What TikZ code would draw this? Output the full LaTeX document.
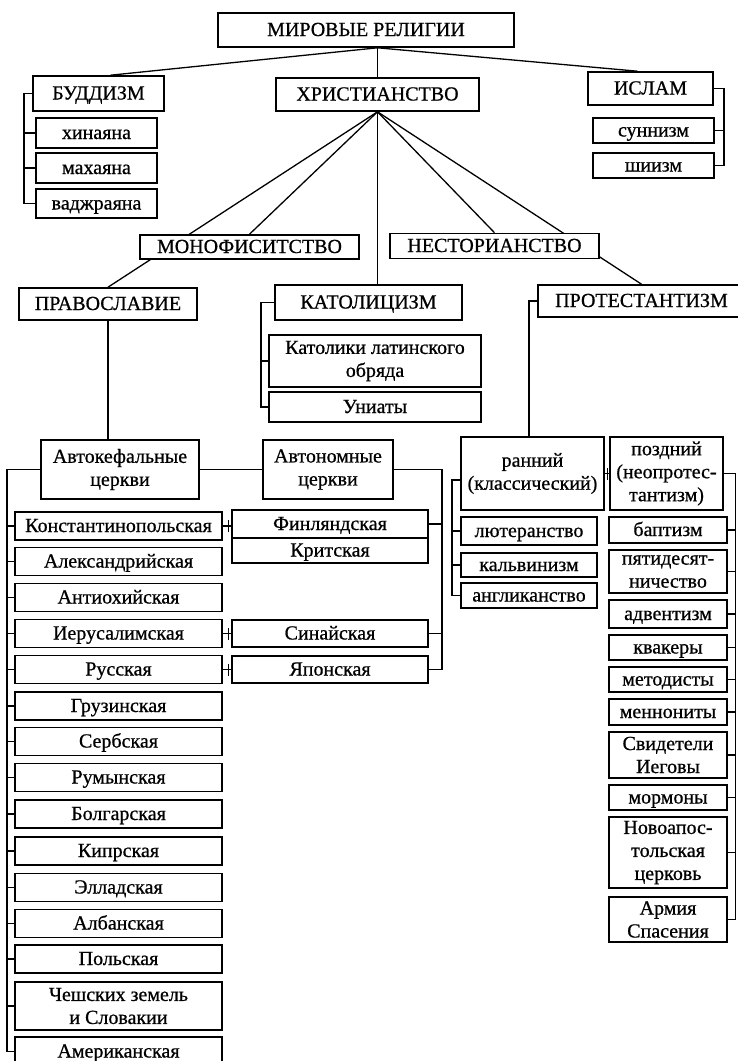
\documentclass[tikz,border=0pt]{standalone}
\usepackage{fontspec}
\setmainfont{Liberation Serif}[UprightFeatures={FakeBold=0.7}]
\usetikzlibrary{backgrounds}

\tikzset{
  box/.style={draw, fill=white, line width=1.6pt, inner sep=0pt, align=center, text height=14.5pt, text depth=2.5pt},
  tallbox/.style={draw, fill=white, line width=1.6pt, inner sep=0pt, align=center},
  lnk/.style={line width=1.3pt},
}

\begin{document}
\begin{tikzpicture}[x=1pt, y=-1pt, font=\fontsize{20}{23}\selectfont]
\useasboundingbox (0,0) rectangle (737,1061);

% Top level
\node[box, minimum width=296pt, minimum height=34pt] (world) at (366,30) {МИРОВЫЕ РЕЛИГИИ};
\node[box, minimum width=131pt, minimum height=35pt] (budd) at (98.5,93.5) {БУДДИЗМ};
\node[box, minimum width=203pt, minimum height=33pt] (christ) at (377.5,94.5) {ХРИСТИАНСТВО};
\node[box, minimum width=125pt, minimum height=33pt] (islam) at (650.5,88.5) {ИСЛАМ};

% Buddhism and Islam
\node[box, minimum width=121pt, minimum height=30pt] (hin) at (96.5,133) {хинаяна};
\node[box, minimum width=121pt, minimum height=30pt] (mah) at (96.5,168) {махаяна};
\node[box, minimum width=121pt, minimum height=29pt] (vadj) at (96.5,203.5) {ваджраяна};
\node[box, minimum width=121pt, minimum height=25pt] (sunn) at (653.5,130.5) {суннизм};
\node[box, minimum width=121pt, minimum height=25pt] (shi) at (653.5,165.5) {шиизм};

% Christianity
\node[box, minimum width=219pt, minimum height=24pt] (mono) at (249.5,247) {МОНОФИСИТСТВО};
\node[box, minimum width=209pt, minimum height=25pt] (nest) at (494.5,246) {НЕСТОРИАНСТВО};
\node[box, minimum width=178pt, minimum height=32pt] (prav) at (108,304) {ПРАВОСЛАВИЕ};
\node[box, minimum width=187pt, minimum height=35pt] (kat) at (368.5,302.5) {КАТОЛИЦИЗМ};
\node[box, minimum width=207pt, minimum height=32pt] (prot) at (641.5,301) {ПРОТЕСТАНТИЗМ};

% Catholicism
\node[tallbox, minimum width=212pt, minimum height=52pt] (katlat) at (375,361) {Католики латинского\\обряда};
\node[box, minimum width=212pt, minimum height=30pt] (uni) at (375,407) {Униаты};

% Orthodoxy
\node[tallbox, minimum width=158pt, minimum height=59pt] (avtokef) at (120,469.5) {Автокефальные\\церкви};
\node[tallbox, minimum width=130pt, minimum height=59pt] (avtonom) at (328,469.5) {Автономные\\церкви};
\node[box, minimum width=207pt, minimum height=28pt] (konst) at (118.5,526) {Константинопольская};
\node[box, minimum width=207pt, minimum height=28pt] (alex) at (118.5,561.5) {Александрийская};
\node[box, minimum width=207pt, minimum height=28pt] (antioch) at (118.5,597.5) {Антиохийская};
\node[box, minimum width=207pt, minimum height=28pt] (jerus) at (118.5,633.5) {Иерусалимская};
\node[box, minimum width=207pt, minimum height=28pt] (rus) at (118.5,669.5) {Русская};
\node[box, minimum width=207pt, minimum height=28pt] (georg) at (118.5,706) {Грузинская};
\node[box, minimum width=207pt, minimum height=28pt] (serb) at (118.5,741.5) {Сербская};
\node[box, minimum width=207pt, minimum height=28pt] (rom) at (118.5,777.5) {Румынская};
\node[box, minimum width=207pt, minimum height=28pt] (bulg) at (118.5,814) {Болгарская};
\node[box, minimum width=207pt, minimum height=28pt] (cyp) at (118.5,851) {Кипрская};
\node[box, minimum width=207pt, minimum height=28pt] (hell) at (118.5,887.5) {Элладская};
\node[box, minimum width=207pt, minimum height=28pt] (alb) at (118.5,923.5) {Албанская};
\node[box, minimum width=207pt, minimum height=28pt] (pol) at (118.5,959) {Польская};
\node[tallbox, minimum width=207pt, minimum height=48pt] (czech) at (118.5,1006) {Чешских земель\\и Словакии};
\node[box, minimum width=207pt, minimum height=29pt] (amer) at (118.5,1051.5) {Американская};
\node[box, minimum width=196pt, minimum height=28pt] (fin) at (330,524) {Финляндская};
\node[box, minimum width=196pt, minimum height=25pt] (krit) at (330,550.5) {Критская};
\node[box, minimum width=196pt, minimum height=27pt] (sin) at (330,633.5) {Синайская};
\node[box, minimum width=196pt, minimum height=27pt] (jap) at (330,669.5) {Японская};

% Protestantism
\node[tallbox, minimum width=143pt, minimum height=73pt] (rann) at (532.5,473.5) {ранний\\(классический)};
\node[tallbox, minimum width=113pt, minimum height=73pt] (pozd) at (666.5,473.5) {поздний\\(неопротес-\\тантизм)};
\node[box, minimum width=136pt, minimum height=28pt] (lut) at (529,531) {лютеранство};
\node[box, minimum width=136pt, minimum height=24pt] (kalv) at (529,565) {кальвинизм};
\node[box, minimum width=136pt, minimum height=25pt] (angl) at (529,595.5) {англиканство};
\node[box, minimum width=118pt, minimum height=26pt] (bapt) at (668,530) {баптизм};
\node[tallbox, minimum width=118pt, minimum height=43pt] (pent) at (668,571.5) {пятидесят-\\ничество};
\node[box, minimum width=118pt, minimum height=28pt] (adv) at (668,614) {адвентизм};
\node[box, minimum width=118pt, minimum height=25pt] (quak) at (668,647.5) {квакеры};
\node[box, minimum width=118pt, minimum height=25pt] (meth) at (668,679.5) {методисты};
\node[box, minimum width=118pt, minimum height=26pt] (menn) at (668,712) {меннониты};
\node[tallbox, minimum width=118pt, minimum height=46pt] (jw) at (668,755) {Свидетели\\Иеговы};
\node[box, minimum width=118pt, minimum height=25pt] (morm) at (668,797.5) {мормоны};
\node[tallbox, minimum width=118pt, minimum height=71pt] (novo) at (668,852.5) {Новоапос-\\тольская\\церковь};
\node[tallbox, minimum width=118pt, minimum height=45pt] (army) at (668,919.5) {Армия\\Спасения};

% Bracket positions
\coordinate (bb) at (24,0);
\coordinate (ib) at (724,0);
\coordinate (cb) at (261,0);
\coordinate (ab) at (7,0);
\coordinate (nb) at (442,0);
\coordinate (pb) at (529,0);
\coordinate (eb) at (452,0);
\coordinate (lb) at (735.5,0);

% Fan lines behind the boxes
\begin{scope}[on background layer]
\draw[lnk] (christ.north |- world.south) -- ([xshift=12pt]budd.north);
\draw[lnk] (christ.north |- world.south) -- ([xshift=-13pt]islam.north);
\draw[lnk] (christ.north |- world.south) -- (christ.north);
\draw[lnk] (christ.south) -- (prav.north);
\draw[lnk] (christ.south) -- (mono.north);
\draw[lnk] (christ.south) -- (christ.south |- kat.north);
\draw[lnk] (christ.south) -- (nest.north);
\draw[lnk] (christ.south) -- (prot.north);
\end{scope}

% Brackets
\draw[lnk] (budd.west) -| (bb |- vadj.west) -- (vadj.west);
\foreach \n in {hin,mah} \draw[lnk] (\n.west) -- (\n.west -| bb);
\draw[lnk] (islam.east) -| (ib |- shi.east) -- (shi.east);
\draw[lnk] (sunn.east) -- (sunn.east -| ib);
\draw[lnk] (kat.west) -| (cb |- uni.west) -- (uni.west);
\draw[lnk] (katlat.west) -- (katlat.west -| cb);

\draw[lnk] (prav.south) -- (prav.south |- avtokef.north);
\draw[lnk] (avtokef.east) -- (avtonom.west);
\draw[lnk] (avtokef.west) -| (ab |- amer.west) -- (amer.west);
\foreach \n in {konst,alex,antioch,jerus,rus,georg,serb,rom,bulg,cyp,hell,alb,pol,czech}
  \draw[lnk] (\n.west) -- (\n.west -| ab);
\draw[lnk] (avtonom.east) -| (nb |- jap.east) -- (jap.east);
\foreach \n in {fin,sin} \draw[lnk] (\n.east) -- (\n.east -| nb);
\foreach \a/\b in {konst/fin,jerus/sin,rus/jap} {
  \draw[lnk] (\a.east) -- (\a.east -| \b.west);
  \draw[lnk] ([xshift=6pt,yshift=-6pt]\a.east) -- ([xshift=6pt,yshift=6pt]\a.east);
}

\draw[lnk] (prot.west) -| (pb |- rann.north);
\draw[lnk] (rann.east) -- (pozd.west);
\draw[lnk] ([xshift=3pt,yshift=-6pt]rann.east) -- ([xshift=3pt,yshift=6pt]rann.east);
\draw[lnk] ([yshift=-6.5pt]rann.west) -| (eb |- angl.west) -- (angl.west);
\foreach \n in {lut,kalv} \draw[lnk] (\n.west) -- (\n.west -| eb);
\draw[lnk] (pozd.east) -| (lb |- army.east) -- (army.east);
\foreach \n in {bapt,pent,adv,quak,meth,menn,jw,morm,novo}
  \draw[lnk] (\n.east) -- (\n.east -| lb);
\end{tikzpicture}
\end{document}
